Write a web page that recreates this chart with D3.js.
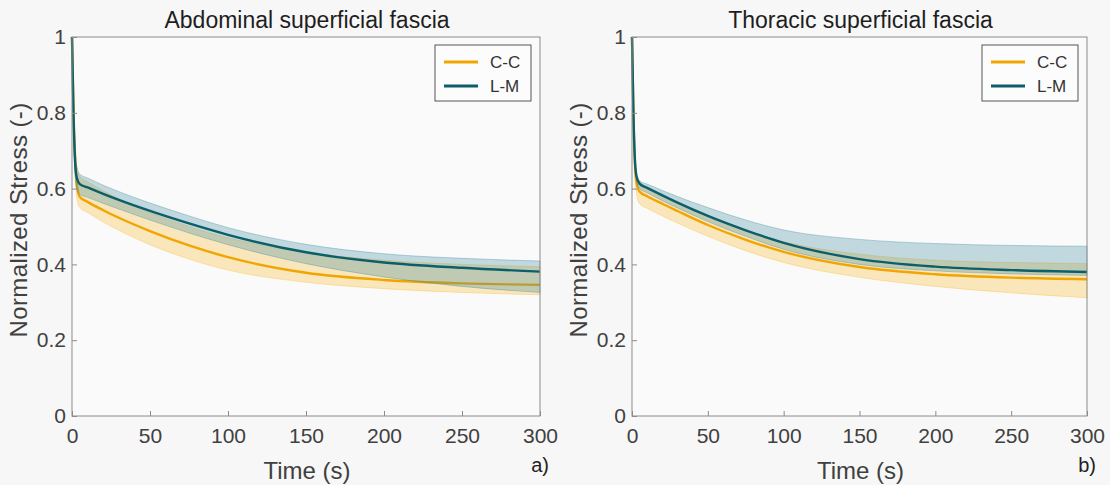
<!DOCTYPE html>
<html>
<head>
<meta charset="UTF-8">
<title>Stress relaxation</title>
<style>
  body { margin: 0; background: #f7f7f7; }
  svg { display: block; font-family: "Liberation Sans", Arial, sans-serif; }
  .axis path, .axis line { stroke: #8c8c8c; }
  .axis text { fill: #404040; font-size: 21px; }
</style>
</head>
<body>
<svg id="chart" width="1110" height="485"></svg>
<script src="https://d3js.org/d3.v7.min.js"></script>
<script>
// time points (s)
var times = [0, 1, 2, 3, 5, 10, 20, 30, 50, 75, 100, 150, 200, 250, 300];

// a) abdominal
var ccMeanA = [1, 0.80, 0.68, 0.615, 0.578, 0.565, 0.543, 0.523, 0.488, 0.450, 0.419, 0.378, 0.359, 0.350, 0.346];
var ccUpA   = [1, 0.83, 0.72, 0.665, 0.632, 0.618, 0.594, 0.573, 0.537, 0.500, 0.470, 0.432, 0.411, 0.400, 0.394];
var ccLoA   = [1, 0.77, 0.64, 0.580, 0.550, 0.537, 0.512, 0.490, 0.452, 0.414, 0.385, 0.353, 0.336, 0.326, 0.320];
var lmMeanA = [1, 0.79, 0.67, 0.630, 0.612, 0.603, 0.586, 0.570, 0.541, 0.508, 0.478, 0.432, 0.405, 0.391, 0.381];
var lmUpA   = [1, 0.81, 0.70, 0.660, 0.638, 0.628, 0.609, 0.592, 0.562, 0.528, 0.497, 0.453, 0.428, 0.416, 0.409];
var lmLoA   = [1, 0.77, 0.64, 0.600, 0.585, 0.577, 0.561, 0.546, 0.517, 0.483, 0.452, 0.402, 0.367, 0.342, 0.326];

// b) thoracic
var ccMeanB = [1, 0.78, 0.66, 0.615, 0.592, 0.580, 0.560, 0.541, 0.504, 0.465, 0.433, 0.393, 0.374, 0.365, 0.361];
var ccUpB   = [1, 0.80, 0.68, 0.630, 0.607, 0.597, 0.579, 0.561, 0.527, 0.490, 0.460, 0.427, 0.411, 0.405, 0.402];
var ccLoB   = [1, 0.76, 0.63, 0.585, 0.560, 0.548, 0.528, 0.509, 0.474, 0.436, 0.405, 0.366, 0.342, 0.325, 0.312];
var lmMeanB = [1, 0.79, 0.67, 0.632, 0.613, 0.602, 0.582, 0.563, 0.528, 0.490, 0.457, 0.414, 0.394, 0.385, 0.380];
var lmUpB   = [1, 0.80, 0.68, 0.640, 0.621, 0.612, 0.595, 0.579, 0.550, 0.517, 0.491, 0.466, 0.455, 0.450, 0.448];
var lmLoB   = [1, 0.78, 0.66, 0.620, 0.600, 0.589, 0.568, 0.549, 0.513, 0.474, 0.440, 0.400, 0.383, 0.375, 0.371];

var xTicks = [0, 50, 100, 150, 200, 250, 300];
var yTicks = [0, 0.2, 0.4, 0.6, 0.8, 1];
var seriesNames = ["C-C", "L-M"];
var seriesColors = ["#f0a500", "#0a5f6a"];
var bandColors = ["#fdb82a", "#3d8aa0"];

var svg = d3.select("#chart");

function drawPanel(opt) {
    var x = d3.scaleLinear().domain([0, 300]).range([opt.left, opt.right]);
    var y = d3.scaleLinear().domain([0, 1]).range([416, 37]);
    var g = svg.append("g");

    g.append("rect").attr("x", opt.left).attr("y", 37)
        .attr("width", opt.right - opt.left).attr("height", 416 - 37)
        .attr("fill", "#fafafa");

    var area = d3.area().curve(d3.curveMonotoneX)
        .x(function (d, i) { return x(times[i]); })
        .y0(function (d) { return y(d[0]); })
        .y1(function (d) { return y(d[1]); });
    var line = d3.line().curve(d3.curveMonotoneX)
        .x(function (d, i) { return x(times[i]); })
        .y(function (d) { return y(d); });

    var sets = [
        { lo: opt.ccLo, up: opt.ccUp, mean: opt.ccMean },
        { lo: opt.lmLo, up: opt.lmUp, mean: opt.lmMean }
    ];
    sets.forEach(function (s, k) {
        var band = s.lo.map(function (v, i) { return [v, s.up[i]]; });
        g.append("path").attr("d", area(band))
            .attr("fill", bandColors[k]).attr("fill-opacity", 0.3)
            .attr("stroke", bandColors[k]).attr("stroke-opacity", 0.45)
            .attr("stroke-width", 0.8);
        g.append("path").attr("d", line(s.mean))
            .attr("fill", "none").attr("stroke", seriesColors[k])
            .attr("stroke-width", 2.4);
    });

    // box
    g.append("rect").attr("x", opt.left).attr("y", 37)
        .attr("width", opt.right - opt.left).attr("height", 416 - 37)
        .attr("fill", "none").attr("stroke", "#8c8c8c").attr("stroke-width", 1);

    g.append("g").attr("class", "axis")
        .attr("transform", "translate(0,416)")
        .call(d3.axisBottom(x).tickValues(xTicks).tickSize(-5).tickPadding(12)
            .tickFormat(d3.format("d")))
        .call(function (a) { a.select(".domain").remove(); });

    g.append("g").attr("class", "axis")
        .attr("transform", "translate(" + opt.left + ",0)")
        .call(d3.axisLeft(y).tickValues(yTicks).tickSize(-5).tickPadding(6)
            .tickFormat(function (d) { return d === 0 || d === 1 ? String(d) : d3.format(".1f")(d); }))
        .call(function (a) { a.select(".domain").remove(); });

    g.append("text").attr("x", (opt.left + opt.right) / 2 + 1).attr("y", 28)
        .attr("text-anchor", "middle").attr("font-size", 23).attr("fill", "#1e1e1e")
        .text(opt.title);

    g.append("text").attr("x", (opt.left + opt.right) / 2 + 1).attr("y", 479)
        .attr("text-anchor", "middle").attr("font-size", 24).attr("fill", "#404040")
        .text("Time (s)");

    g.append("text")
        .attr("transform", "translate(" + (opt.left - 45) + ",220) rotate(-90)")
        .attr("text-anchor", "middle").attr("font-size", 24).attr("fill", "#404040")
        .attr("letter-spacing", 0.4)
        .text("Normalized Stress (-)");

    g.append("text").attr("x", opt.right + 9).attr("y", 472)
        .attr("text-anchor", "end").attr("font-size", 20).attr("fill", "#222")
        .text(opt.tag);

    // legend
    var lx = opt.right - 105, ly = 45;
    var lg = g.append("g").attr("transform", "translate(" + lx + "," + ly + ")");
    lg.append("rect").attr("width", 96).attr("height", 56)
        .attr("fill", "#fcfcfc").attr("stroke", "#555").attr("stroke-width", 1);
    seriesNames.forEach(function (name, k) {
        var yy = 17 + k * 24;
        lg.append("line").attr("x1", 9).attr("x2", 43).attr("y1", yy).attr("y2", yy)
            .attr("stroke", seriesColors[k]).attr("stroke-width", 3);
        lg.append("text").attr("x", 55).attr("y", yy + 6)
            .attr("font-size", 17).attr("fill", "#333").text(name);
    });
}

drawPanel({
    left: 72, right: 540, title: "Abdominal superficial fascia", tag: "a)",
    ccMean: ccMeanA, ccUp: ccUpA, ccLo: ccLoA, lmMean: lmMeanA, lmUp: lmUpA, lmLo: lmLoA
});
drawPanel({
    left: 632, right: 1087, title: "Thoracic superficial fascia", tag: "b)",
    ccMean: ccMeanB, ccUp: ccUpB, ccLo: ccLoB, lmMean: lmMeanB, lmUp: lmUpB, lmLo: lmLoB
});
</script>
</body>
</html>
